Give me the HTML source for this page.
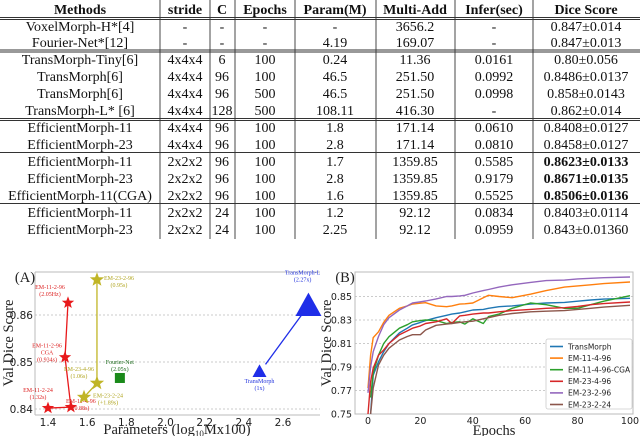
<!DOCTYPE html>
<html><head><meta charset="utf-8"><style>
html,body{margin:0;padding:0;background:#fff;}
svg{display:block;}
.t{font-family:"Liberation Serif",serif;font-size:14px;fill:#111;}
.b{font-weight:bold;}
.tk{font-family:"DejaVu Sans",sans-serif;font-size:9.5px;fill:#222;}
.tka{font-family:"DejaVu Sans",sans-serif;font-size:10.5px;fill:#222;}
.al{font-family:"Liberation Serif",serif;font-size:14.5px;fill:#222;}
.lab{font-family:"Liberation Serif",serif;font-size:6px;}
</style></head><body>
<svg id="s" width="640" height="436" viewBox="0 0 640 436" xmlns="http://www.w3.org/2000/svg">
<g id="table"></g>
<g id="chartA"></g>
<g id="chartB"></g>
</svg>
<script>
// ---------- TABLE ----------
const headers=["Methods","stride","C","Epochs","Param(M)","Multi-Add","Infer(sec)","Dice Score"];
const rows=[
["VoxelMorph-H*[4]","-","-","-","-","3656.2","-","0.847±0.014"],
["Fourier-Net*[12]","-","-","-","4.19","169.07","-","0.847±0.013"],
["TransMorph-Tiny[6]","4x4x4","6","100","0.24","11.36","0.0161","0.80±0.056"],
["TransMorph[6]","4x4x4","96","100","46.5","251.50","0.0992","0.8486±0.0137"],
["TransMorph[6]","4x4x4","96","500","46.5","251.50","0.0998","0.858±0.0143"],
["TransMorph-L* [6]","4x4x4","128","500","108.11","416.30","-","0.862±0.014"],
["EfficientMorph-11","4x4x4","96","100","1.8","171.14","0.0610","0.8408±0.0127"],
["EfficientMorph-23","4x4x4","96","100","2.8","171.14","0.0810","0.8458±0.0127"],
["EfficientMorph-11","2x2x2","96","100","1.7","1359.85","0.5585","0.8623±0.0133"],
["EfficientMorph-23","2x2x2","96","100","2.8","1359.85","0.9179","0.8671±0.0135"],
["EfficientMorph-11(CGA)","2x2x2","96","100","1.6","1359.85","0.5525","0.8506±0.0136"],
["EfficientMorph-11","2x2x2","24","100","1.2","92.12","0.0834","0.8403±0.0114"],
["EfficientMorph-23","2x2x2","24","100","2.25","92.12","0.0959","0.843±0.01360"]];
const boldRows=[8,9,10];
const NS="http://www.w3.org/2000/svg";
function mk(tag,attrs,parent){const e=document.createElementNS(NS,tag);for(const k in attrs)e.setAttribute(k,attrs[k]);parent.appendChild(e);return e;}
const T=document.getElementById('table');
const colX=[80,185,222,265,335,415,494,586];
const vLines=[160,210,235,295,376,455,533];
const rowY=[9,26,42,59,76,93,110,127,144,161,178,195,212,229];
headers.forEach((h,i)=>{const e=mk('text',{x:colX[i],y:rowY[0]+5,'text-anchor':'middle',class:'t b'},T);e.textContent=h;

});
rows.forEach((r,ri)=>{r.forEach((c,ci)=>{const bold=(ci===7&&boldRows.includes(ri));
const e=mk('text',{x:colX[ci],y:rowY[ri+1]+5,'text-anchor':'middle',class:bold?'t b':'t'},T);e.textContent=c;

});});
vLines.forEach(x=>mk('line',{x1:x,x2:x,y1:0,y2:239,stroke:'#333','stroke-width':0.9},T));
[[17.5,19.5],[50,52],[118.5,120.5],[152.5],[203.5]].forEach(g=>g.forEach(y=>mk('line',{x1:0,x2:640,y1:y,y2:y,stroke:'#333','stroke-width':0.9},T)));

// ---------- CHART A ----------
const aXTicks=[1.4,1.6,1.8,2.0,2.2,2.4,2.6];
const aYTicks=[0.84,0.85,0.86];
const redX=[1.502,1.487,1.517,1.40];
const redY=[0.8626,0.851,0.8404,0.8402];
const redLabels=[["EM-11-2-96","(2.05Hz)"],["EM-11-2-96","CGA","(0.934s)"],["EM-11-4-96","(0.88s)"],["EM-11-2-24","(1.32s)"]];
const oliveX=[1.65,1.65,1.584];
const oliveY=[0.8675,0.8455,0.8425];
const oliveLabels=[["EM-23-2-96","(0.95s)"],["EM-23-4-96","(1.06s)"],["EM-23-2-24","(+1.89s)"]];
const fourierX=[1.767], fourierY=[0.8466];
const tmX=[2.73,2.48], tmY=[0.862,0.848];
const A=document.getElementById('chartA');
const ax=v=>48+(v-1.4)/1.2*235;
const ay=v=>409-(v-0.84)*4700;
mk('line',{x1:35,x2:320,y1:272,y2:272,stroke:'#bbb','stroke-width':1},A);
mk('line',{x1:35,x2:35,y1:272,y2:415,stroke:'#bbb','stroke-width':1},A);
mk('line',{x1:35,x2:320,y1:415,y2:415,stroke:'#bbb','stroke-width':1},A);
aYTicks.forEach(v=>{mk('line',{x1:35,x2:320,y1:ay(v),y2:ay(v),stroke:'#bbb','stroke-dasharray':'2,2','stroke-width':0.7},A);
const t=mk('text',{x:33,y:ay(v)+4,'text-anchor':'end',class:'tka'},A);t.textContent=v.toFixed(2);

});
aXTicks.forEach(v=>{const t=mk('text',{x:ax(v),y:426,'text-anchor':'middle',class:'tka'},A);t.textContent=v.toFixed(1);

});
let t=mk('text',{x:25,y:282,'text-anchor':'middle',class:'al'},A);t.textContent='(A)';


t=mk('text',{x:0,y:0,'text-anchor':'middle',class:'al',transform:'translate(13,343) rotate(-90)'},A);t.textContent='Val Dice Score';


t=mk('text',{x:177,y:434,'text-anchor':'middle',class:'al'},A);t.innerHTML='Parameters (log<tspan style="font-size:9px" dy="3">10</tspan><tspan dy="-3">Mx100)</tspan>';


function star(cx,cy,r,fill,name){let p=[];for(let i=0;i<10;i++){const rr=i%2?r*0.42:r;const a=-Math.PI/2+i*Math.PI/5;p.push((cx+rr*Math.cos(a)).toFixed(1)+','+(cy+rr*Math.sin(a)).toFixed(1));}
const e=mk('polygon',{points:p.join(' '),fill:fill},A);

}
function poly(xs,ys,col){mk('polyline',{points:xs.map((x,i)=>ax(x)+','+ay(ys[i])).join(' '),fill:'none',stroke:col,'stroke-width':1.3},A);}
poly(redX,redY,'#e8191b');
poly(oliveX,oliveY,'#c0b526');
const redOff=[[-18,-14],[-18,-10],[10,-4],[-10,-16]];
redX.forEach((x,i)=>{star(ax(x),ay(redY[i]),6.5,'#e8191b','red-star-'+i);
redLabels[i].forEach((l,j)=>{const e=mk('text',{x:ax(x)+redOff[i][0],y:ay(redY[i])+redOff[i][1]+j*7,'text-anchor':'middle',class:'lab',fill:'#d22'},A);e.textContent=l;

});});
const olOff=[[22,0],[-18,-12],[24,0]];
oliveX.forEach((x,i)=>{star(ax(x),ay(oliveY[i]),7.5,'#c0b526','olive-star-'+i);
oliveLabels[i].forEach((l,j)=>{const e=mk('text',{x:ax(x)+olOff[i][0],y:ay(oliveY[i])+olOff[i][1]+j*7,'text-anchor':'middle',class:'lab',fill:'#b0a520'},A);e.textContent=l;

});});
fourierX.forEach((x,i)=>{const e=mk('rect',{x:ax(x)-5,y:ay(fourierY[i])-5,width:10,height:10,fill:'#1a8a1a'},A);


const l1=mk('text',{x:ax(x),y:ay(fourierY[i])-14,'text-anchor':'middle',class:'lab',fill:'#1a6a1a'},A);l1.textContent='Fourier-Net';
const l2=mk('text',{x:ax(x),y:ay(fourierY[i])-7,'text-anchor':'middle',class:'lab',fill:'#1a6a1a'},A);l2.textContent='(2.05x)';});
mk('line',{x1:ax(tmX[0]),y1:ay(tmY[0]),x2:ax(tmX[1])+6,y2:ay(tmY[1])-7,stroke:'#1f2ee8','stroke-width':1.3},A);
[[tmX[0],tmY[0],13,'transmorph-l-marker'],[tmX[1],tmY[1],7,'transmorph-marker']].forEach(([x,y,s,n])=>{
const cx=ax(x),cy=ay(y);const e=mk('polygon',{points:`${cx},${cy-s} ${cx-s},${cy+s*0.8} ${cx+s},${cy+s*0.8}`,fill:'#1f2ee8'},A);

});
[['TransMorph-L',2.7,0.8686],['(2.27x)',2.7,0.8671],['TransMorph',2.48,0.8455],['(1x)',2.48,0.844]].forEach(([s,x,y])=>{const e=mk('text',{x:ax(x),y:ay(y),'text-anchor':'middle',class:'lab',fill:'#2233dd'},A);e.textContent=s;

});

// ---------- CHART B ----------
const epochs=[0,1,2,4,6,8,12,15,17,20,22,26,30,32,35,37,40,44,46,50,55,62,68,75,80,85,90,100];
const transmorph=[null,0.75,0.783,0.7945,0.803,0.810,0.819,0.823,0.8258,0.828,0.8295,0.832,0.834,0.835,0.836,0.837,0.8385,0.839,0.840,0.8413,0.842,0.8435,0.8445,0.845,0.846,0.847,0.8478,0.8485];
const em11_4_96=[0.772,0.800,0.815,0.820,0.828,0.834,0.840,0.842,0.8436,0.8443,0.8447,0.842,0.8413,0.842,0.8435,0.8438,0.8445,0.849,0.851,0.850,0.849,0.852,0.855,0.858,0.859,0.860,0.861,0.8623];
const em11_cga=[null,0.764,0.785,0.800,0.810,0.8158,0.823,0.826,0.8285,0.8295,0.830,0.8295,0.827,0.828,0.8285,0.8265,0.831,0.827,0.833,0.835,0.840,0.8445,0.843,0.840,0.840,0.843,0.846,0.8507];
const em23_4_96=[0.75,0.7775,0.789,0.800,0.8045,0.810,0.8175,0.8207,0.823,0.825,0.827,0.8285,0.831,0.827,0.8335,0.834,0.835,0.836,0.836,0.837,0.838,0.839,0.840,0.8405,0.8415,0.843,0.844,0.8453];
const em23_2_96=[0.768,0.790,0.803,0.816,0.826,0.832,0.8385,0.842,0.8445,0.8455,0.8462,0.848,0.850,0.850,0.8505,0.851,0.853,0.855,0.856,0.858,0.860,0.862,0.8635,0.864,0.865,0.8655,0.866,0.8666];
const em23_2_24=[null,0.749,0.772,0.7917,0.800,0.806,0.813,0.816,0.8175,0.8175,0.8215,0.8255,0.8265,0.827,0.828,0.8285,0.829,0.831,0.832,0.834,0.8355,0.837,0.8375,0.838,0.839,0.840,0.841,0.8425];
const bYTicks=[0.75,0.77,0.79,0.81,0.83,0.85];
const bXTicks=[0,20,40,60,80,100];
const seriesNames=["TransMorph","EM-11-4-96","EM-11-4-96-CGA","EM-23-4-96","EM-23-2-96","EM-23-2-24"];
const seriesData=[transmorph,em11_4_96,em11_cga,em23_4_96,em23_2_96,em23_2_24];
const colors=["#1f77b4","#ff7f0e","#2ca02c","#d62728","#9467bd","#8c564b"];
const B=document.getElementById('chartB');
const bx=e=>368+e*2.62;
const by=v=>414-(v-0.75)*1175;
mk('rect',{x:355,y:272,width:278,height:142,fill:'none',stroke:'#bbb','stroke-width':1},B);
bYTicks.forEach(v=>{if(v>0.75)mk('line',{x1:355,x2:633,y1:by(v),y2:by(v),stroke:'#bbb','stroke-dasharray':'2,2','stroke-width':0.7},B);
const t=mk('text',{x:352,y:by(v)+3.5,'text-anchor':'end',class:'tk'},B);t.textContent=v.toFixed(2);

});
bXTicks.forEach(v=>{const t=mk('text',{x:bx(v),y:424,'text-anchor':'middle',class:'tk'},B);t.textContent=v;

});
t=mk('text',{x:345,y:282,'text-anchor':'middle',class:'al'},B);t.textContent='(B)';


t=mk('text',{x:0,y:0,'text-anchor':'middle',class:'al',transform:'translate(331,343) rotate(-90)'},B);t.textContent='Val Dice Score';


t=mk('text',{x:494,y:435,'text-anchor':'middle',class:'al'},B);t.textContent='Epochs';


seriesData.forEach((d,si)=>{const pts=[];d.forEach((v,i)=>{if(v!==null)pts.push(bx(epochs[i]).toFixed(1)+','+Math.min(414,by(v)).toFixed(1));});
const e=mk('polyline',{points:pts.join(' '),fill:'none',stroke:colors[si],'stroke-width':1.4,'stroke-linejoin':'round'},B);

});
const lg=mk('g',{},B);


mk('rect',{x:546,y:339,width:86,height:70,fill:'#fff',stroke:'#ccc','stroke-width':0.8,rx:2},lg);
seriesNames.forEach((n,i)=>{const y=346.5+i*11.6;
mk('line',{x1:550,x2:563,y1:y,y2:y,stroke:colors[i],'stroke-width':1.6},lg);
const e=mk('text',{x:568,y:y+2.8,class:'tk',style:'font-size:7.5px'},lg);e.textContent=n;

});
</script>
</body></html>
